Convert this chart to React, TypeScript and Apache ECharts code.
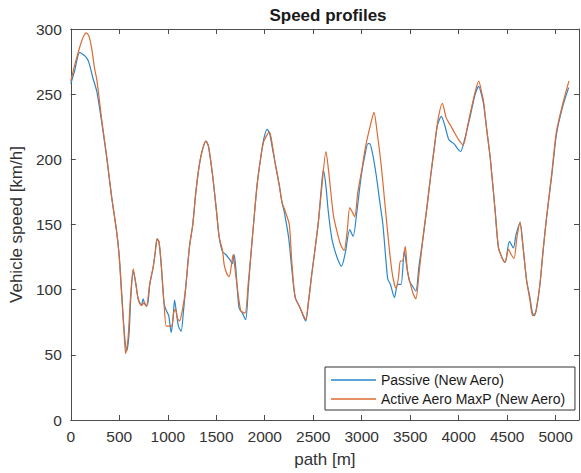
import React, { useEffect, useRef } from "react";
import * as echarts from "echarts";

const titleText = "Speed profiles";
const xAxisName = "path [m]";
const yAxisName = "Vehicle speed [km/h]";
const seriesNames = ["Passive (New Aero)", "Active Aero MaxP (New Aero)"];

const passiveDist = [
  0, 40, 92, 150, 184, 230, 269, 320, 371, 420, 474, 500, 525, 549, 576, 600, 620, 644, 670, 695,
  729, 746, 770, 790, 815, 849, 870, 890, 910, 934, 961, 985, 1010, 1036, 1055, 1070, 1085, 1110,
  1138, 1160, 1183, 1224, 1258, 1290, 1326, 1360, 1394, 1420, 1462, 1500, 1531, 1565, 1598, 1640,
  1667, 1684, 1700, 1735, 1770, 1803, 1830, 1854, 1890, 1922, 1960, 1991, 2025, 2050, 2080, 2110,
  2150, 2178, 2200, 2246, 2280, 2314, 2365, 2400, 2423, 2450, 2485, 2520, 2553, 2580, 2604, 2630,
  2655, 2690, 2723, 2760, 2791, 2830, 2876, 2911, 2950, 2996, 3030, 3064, 3081, 3110, 3149, 3185,
  3218, 3250, 3269, 3296, 3337, 3371, 3405, 3439, 3460, 3490, 3520, 3558, 3590, 3627, 3670, 3712,
  3750, 3780, 3821, 3860, 3899, 3950, 3990, 4018, 4060, 4121, 4170, 4206, 4240, 4257, 4290, 4325,
  4376, 4410, 4450, 4478, 4523, 4564, 4590, 4632, 4660, 4700, 4734, 4760, 4780, 4803, 4837, 4870,
  4905, 4960, 5007, 5070, 5133,
];
const passiveSpeed = [
  258, 268, 282, 279, 275, 262, 252, 228, 201, 172, 144, 126, 98, 70, 53, 65, 95, 114, 105, 93,
  88, 93, 88, 88, 104, 117, 128, 139, 136, 118, 90, 84, 80, 67, 78, 92, 85, 72,
  68, 82, 100, 133, 150, 175, 196, 208, 214, 210, 188, 162, 140, 129, 127, 123,
  120, 127, 118, 86, 82, 77, 100, 124, 155, 181, 202, 216, 223, 220, 208, 196,
  180, 167, 160, 140, 115, 94, 86, 79, 76, 90, 112, 132, 152, 175, 192, 180,
  160, 140, 130, 122, 118, 128, 146, 141, 160, 188, 202, 212, 212, 205, 188, 168,
  150, 122, 108, 104, 94, 104, 104, 130, 120, 107, 103, 99, 118, 137, 162, 188,
  210, 226, 233, 225, 215, 212, 208, 206, 215, 234, 250, 256, 248, 242, 222, 201,
  160, 132, 124, 121, 137, 132, 142, 151, 135, 107, 94, 82, 80, 86, 104, 130,
  155, 188, 219, 240, 255,
];

const activeDist = [
  0, 40, 92, 130, 160, 190, 218, 245, 269, 320, 371, 420, 474, 500, 525, 549, 566, 590, 615, 644,
  670, 695, 729, 760, 780, 815, 849, 870, 890, 910, 934, 961, 985, 1010, 1040, 1060, 1080, 1100,
  1121, 1150, 1183, 1224, 1258, 1290, 1326, 1360, 1394, 1420, 1462, 1500, 1531, 1565, 1582, 1610,
  1633, 1655, 1674, 1690, 1752, 1797, 1830, 1854, 1890, 1922, 1960, 1991, 2048, 2080, 2110, 2150,
  2178, 2212, 2253, 2280, 2314, 2365, 2400, 2423, 2450, 2485, 2520, 2553, 2590, 2631, 2660, 2706,
  2740, 2780, 2818, 2850, 2876, 2900, 2928, 2960, 2996, 3040, 3098, 3126, 3160, 3200, 3240, 3286,
  3320, 3354, 3380, 3398, 3420, 3449, 3470, 3500, 3530, 3558, 3590, 3627, 3670, 3712, 3750, 3790,
  3831, 3870, 3916, 3960, 4000, 4046, 4090, 4121, 4170, 4206, 4240, 4257, 4290, 4325, 4376, 4410,
  4450, 4478, 4513, 4540, 4570, 4600, 4632, 4660, 4700, 4734, 4762, 4790, 4803, 4837, 4870, 4905,
  4960, 5007, 5070, 5136,
];
const activeSpeed = [
  260, 272, 286, 294, 297, 294, 284, 270, 261, 230, 202, 172, 144, 124, 95, 68, 51, 62, 93, 116,
  105, 93, 88, 90, 87, 105, 117, 128, 139, 137, 118, 90, 72, 72, 72, 82, 85, 78,
  76, 84, 100, 133, 150, 175, 196, 208, 214, 210, 188, 162, 140, 130, 119, 112,
  110, 118, 127, 118, 84, 82, 105, 124, 155, 181, 202, 214, 221, 210, 196, 180,
  167, 160, 150, 120, 94, 86, 80, 77, 90, 112, 132, 152, 180, 206, 190, 158,
  146, 135, 130, 145, 163, 160, 156, 175, 190, 210, 229, 236, 220, 196, 165, 130,
  110, 101, 110, 122, 122, 133, 115, 105, 97, 93, 112, 137, 162, 188, 210, 232,
  243, 232, 226, 220, 215, 211, 225, 236, 252, 260, 250, 244, 222, 201, 160, 132,
  124, 121, 131, 127, 124, 140, 152, 135, 107, 92, 80, 82, 86, 104, 130, 155,
  190, 221, 242, 260,
];

const xMin = 0;
const xMax = 5240;
const xInterval = 500;
const yMin = 0;
const yMax = 300;
const yInterval = 50;

const zip = (xs: number[], ys: number[]) => xs.map((x, i) => [x, ys[i]]);

const FONT = "'Liberation Sans', Arial, Helvetica, sans-serif";
const AXIS_COLOR = "#4d4d4d";
const TEXT_COLOR = "#333333";
const BLUE = "#2a86c8";
const ORANGE = "#dc6a32";

export default function App() {
  const ref = useRef<HTMLDivElement>(null);

  useEffect(() => {
    if (!ref.current) return;
    const chart = echarts.init(ref.current, undefined, { renderer: "svg" });
    const commonX = {
      type: "value" as const,
      min: xMin,
      max: xMax,
      interval: xInterval,
      splitLine: { show: false },
      axisLine: { show: true, onZero: false, lineStyle: { color: AXIS_COLOR, width: 1 } },
      axisTick: { show: true, inside: true, length: 5, lineStyle: { color: AXIS_COLOR } },
    };
    const commonY = {
      type: "value" as const,
      min: yMin,
      max: yMax,
      interval: yInterval,
      splitLine: { show: false },
      axisLine: { show: true, onZero: false, lineStyle: { color: AXIS_COLOR, width: 1 } },
      axisTick: { show: true, inside: true, length: 5, lineStyle: { color: AXIS_COLOR } },
    };
    chart.setOption({
      animation: false,
      backgroundColor: "#ffffff",
      title: {
        text: titleText,
        left: 323,
        top: 2,
        textAlign: "center",
        textStyle: { fontFamily: FONT, fontSize: 17, fontWeight: "bold", color: "#1a1a1a" },
      },
      grid: { left: 67, right: 2, top: 29, bottom: 52, containLabel: false },
      xAxis: [
        {
          ...commonX,
          position: "bottom",
          name: xAxisName,
          nameLocation: "middle",
          nameGap: 31,
          nameTextStyle: { fontFamily: FONT, fontSize: 17, color: TEXT_COLOR },
          axisLabel: {
            show: true,
            showMaxLabel: false,
            margin: 8,
            fontFamily: FONT,
            fontSize: 15.5,
            color: TEXT_COLOR,
            formatter: (v: number) => String(v),
          },
        },
        {
          ...commonX,
          position: "top",
          axisLabel: { show: false },
        },
      ],
      yAxis: [
        {
          ...commonY,
          position: "left",
          name: yAxisName,
          nameLocation: "middle",
          nameGap: 38,
          nameTextStyle: { fontFamily: FONT, fontSize: 17, color: TEXT_COLOR },
          axisLabel: {
            show: true,
            margin: 9,
            fontFamily: FONT,
            fontSize: 15.5,
            color: TEXT_COLOR,
            formatter: (v: number) => String(v),
          },
        },
        {
          ...commonY,
          position: "right",
          axisLabel: { show: false },
        },
      ],
      legend: {
        orient: "vertical",
        left: 325,
        top: 367,
        icon: "rect",
        itemWidth: 45,
        itemHeight: 1.4,
        itemGap: 3,
        padding: [5, 8, 3, 6],
        backgroundColor: "#ffffff",
        borderColor: "#333333",
        borderWidth: 1,
        borderRadius: 0,
        textStyle: { fontFamily: FONT, fontSize: 14, color: "#1a1a1a", lineHeight: 16 },
        data: [
          { name: seriesNames[0], itemStyle: { color: BLUE, borderWidth: 0 } },
          { name: seriesNames[1], itemStyle: { color: ORANGE, borderWidth: 0 } },
        ],
      },
      series: [
        {
          name: seriesNames[0],
          type: "line",
          xAxisIndex: 0,
          yAxisIndex: 0,
          data: zip(passiveDist, passiveSpeed),
          symbol: "none",
          smooth: 0.25,
          lineStyle: { color: BLUE, width: 1.2 },
          itemStyle: { color: BLUE },
        },
        {
          name: seriesNames[1],
          type: "line",
          xAxisIndex: 0,
          yAxisIndex: 0,
          data: zip(activeDist, activeSpeed),
          symbol: "none",
          smooth: 0.25,
          lineStyle: { color: ORANGE, width: 1.2 },
          itemStyle: { color: ORANGE },
        },
      ],
    });
    return () => chart.dispose();
  }, []);

  return (
    <div
      ref={ref}
      style={{ position: "fixed", left: 0, top: 0, width: 581, height: 473, background: "#fff" }}
    />
  );
}
